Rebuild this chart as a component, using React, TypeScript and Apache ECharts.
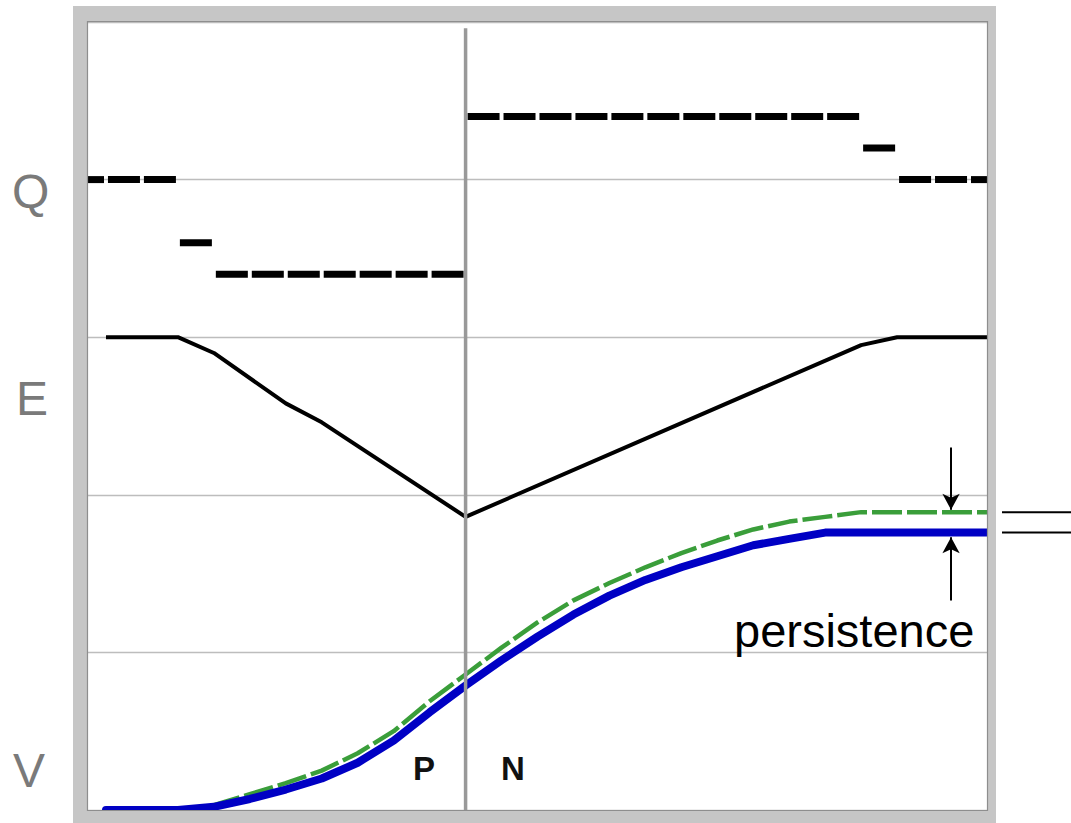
import React, { useEffect, useRef } from "react";
import * as echarts from "echarts";

// Q: one dash per time step
const qSteps = [0, 1, 2, 3, 4, 5, 6, 7, 8, 9, 10, 11, 12, 13, 14, 15, 16, 17, 18, 19, 20, 21, 22, 23, 24, 25];
const qValues = [4, 4, 4, 3.6, 3.4, 3.4, 3.4, 3.4, 3.4, 3.4, 3.4, 4.4, 4.4, 4.4, 4.4, 4.4, 4.4, 4.4, 4.4, 4.4, 4.4, 4.4, 4.2, 4, 4, 4];

// E: black line
const eX = [0.5, 2.5, 3.5, 5.5, 6.5, 10.5, 21.5, 22.5, 25];
const eY = [3, 3, 2.9, 2.58, 2.46, 1.86, 2.95, 3, 3];

// V: blue (solid) and green (dashed)
const vX = [0.5, 1.5, 2.5, 3.5, 4.5, 5.5, 6.5, 7.5, 8.5, 9.5, 10.5, 11.5, 12.5, 13.5, 14.5, 15.5, 16.5, 17.5, 18.5, 19.5, 20.5, 21.5, 22.5, 23.5, 25];
const vBlue = [0, 0, 0, 0.02, 0.07, 0.13, 0.2, 0.3, 0.44, 0.62, 0.79, 0.95, 1.1, 1.24, 1.36, 1.46, 1.54, 1.61, 1.68, 1.72, 1.76, 1.76, 1.76, 1.76, 1.76];
const vGreen = [0, 0, 0, 0.03, 0.1, 0.17, 0.25, 0.36, 0.5, 0.69, 0.86, 1.03, 1.19, 1.33, 1.44, 1.54, 1.63, 1.71, 1.78, 1.83, 1.86, 1.89, 1.89, 1.89, 1.89];

const rowLabels = ["Q", "E", "V"];
const phaseLabels = ["P", "N"];
const switchX = 10.5;
const arrowX = 24;

const FONT = "'Liberation Sans', Arial, sans-serif";

export default function App() {
  const ref = useRef<HTMLDivElement>(null);
  useEffect(() => {
    if (!ref.current) return;
    const chart = echarts.init(ref.current, null, { renderer: "svg" });
    const grid = { left: 88, top: 22, width: 899, height: 788 };
    const zip = (xs: number[], ys: number[]) => xs.map((x, i) => [x, ys[i]]);
    const greenEnd = vGreen[vGreen.length - 1];
    const blueEnd = vBlue[vBlue.length - 1];

    chart.setOption({
      animation: false,
      grid,
      xAxis: {
        type: "value", min: 0, max: 25,
        axisLine: { show: false }, axisTick: { show: false }, axisLabel: { show: false }, splitLine: { show: false },
      },
      yAxis: {
        type: "value", min: 0, max: 5, interval: 1,
        axisLine: { show: false }, axisTick: { show: false }, axisLabel: { show: false },
        splitLine: { show: true, lineStyle: { color: "#bdbdbd", width: 1.3 } },
      },
      series: [
        {
          type: "custom",
          data: zip(qSteps, qValues),
          encode: { x: 0, y: 1 },
          z: 3,
          renderItem: (params: any, api: any) => {
            const p = api.coord([api.value(0), api.value(1)]);
            const w = api.size([1, 0])[0] * 0.89;
            const h = 7;
            const cs = params.coordSys;
            const r = echarts.graphic.clipRectByRect(
              { x: p[0] - w / 2, y: p[1] - h / 2, width: w, height: h },
              { x: cs.x, y: cs.y, width: cs.width, height: cs.height }
            );
            return r ? { type: "rect", shape: r, style: { fill: "#000" } } : null;
          },
        },
        {
          type: "line", data: zip(eX, eY), symbol: "none", z: 3,
          lineStyle: { color: "#000", width: 4 },
        },
        {
          type: "line", data: zip(vX, vGreen), symbol: "none", z: 3,
          lineStyle: { color: "#3a9e3a", width: 4.5, type: [30, 5], join: "round" },
        },
        {
          type: "line", data: zip(vX, vBlue), symbol: "none", z: 4,
          lineStyle: { color: "#0000c4", width: 8, cap: "round", join: "round" },
          markLine: {
            silent: true,
            symbol: ["none", "arrow"],
            symbolSize: [13, 16],
            label: { show: false },
            lineStyle: { color: "#000", width: 2, type: "solid" },
            data: [
              [{ coord: [arrowX, 2.3] }, { coord: [arrowX, greenEnd + 0.015] }],
              [{ coord: [arrowX, 1.33] }, { coord: [arrowX, blueEnd - 0.03] }],
            ],
          },
        },
        {
          type: "line", data: [[switchX, 0], [switchX, 4.96]], symbol: "none", z: 6,
          lineStyle: { color: "#999999", width: 3.5 },
        },
      ],
    });

    const yGreen = chart.convertToPixel({ gridIndex: 0 }, [0, greenEnd])[1];
    const yBlue = chart.convertToPixel({ gridIndex: 0 }, [0, blueEnd])[1];

    const band = "#c6c6c6";
    chart.setOption({
      graphic: [
        { type: "rect", z: 20, shape: { x: 73, y: 6, width: 923, height: 16 }, style: { fill: band } },
        { type: "rect", z: 20, shape: { x: 73, y: 6, width: 15, height: 817 }, style: { fill: band } },
        { type: "rect", z: 20, shape: { x: 987, y: 6, width: 9, height: 817 }, style: { fill: band } },
        { type: "rect", z: 20, shape: { x: 73, y: 810, width: 923, height: 13 }, style: { fill: band } },
        { type: "rect", z: 21, shape: { x: 87.5, y: 21.5, width: 900, height: 789 }, style: { fill: "none", stroke: "#8e8e8e", lineWidth: 1.2 } },
        { type: "line", z: 21, shape: { x1: 1002, y1: yGreen, x2: 1071, y2: yGreen }, style: { stroke: "#000", lineWidth: 2 } },
        { type: "line", z: 21, shape: { x1: 1002, y1: yBlue, x2: 1071, y2: yBlue }, style: { stroke: "#000", lineWidth: 2 } },
        { type: "text", z: 22, x: 734, y: 630, style: { text: "persistence", font: `47px ${FONT}`, fill: "#000", verticalAlign: "middle" } },
        { type: "text", z: 22, x: 12, y: 191, style: { text: rowLabels[0], font: `48px ${FONT}`, fill: "#7a7a7a", verticalAlign: "middle" } },
        { type: "text", z: 22, x: 16, y: 398, style: { text: rowLabels[1], font: `48px ${FONT}`, fill: "#7a7a7a", verticalAlign: "middle" } },
        { type: "text", z: 22, x: 13, y: 770, style: { text: rowLabels[2], font: `48px ${FONT}`, fill: "#7a7a7a", verticalAlign: "middle" } },
        { type: "text", z: 22, x: 413, y: 768, style: { text: phaseLabels[0], font: `bold 33px ${FONT}`, fill: "#111", verticalAlign: "middle" } },
        { type: "text", z: 22, x: 501, y: 768, style: { text: phaseLabels[1], font: `bold 33px ${FONT}`, fill: "#111", verticalAlign: "middle" } },
      ],
    });

    return () => chart.dispose();
  }, []);
  return (
    <div
      ref={ref}
      style={{ position: "absolute", left: 0, top: 0, width: 1071, height: 823, background: "#fff" }}
    />
  );
}
